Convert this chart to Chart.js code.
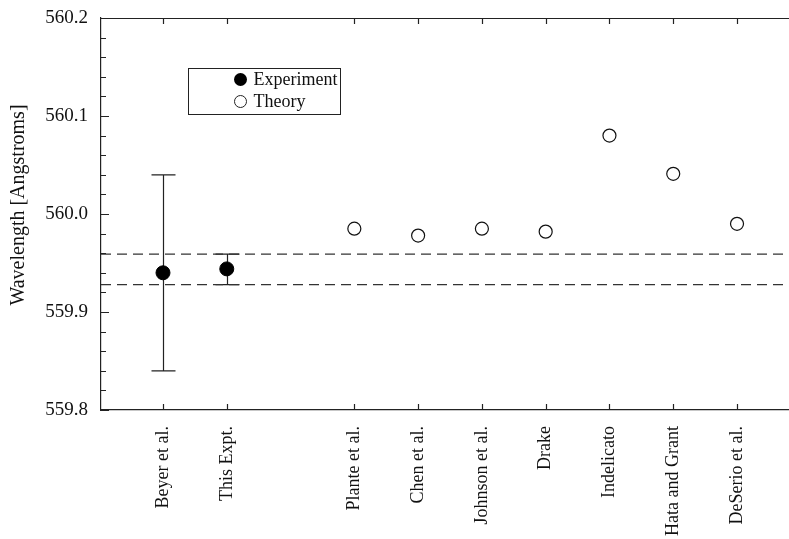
<!DOCTYPE html>
<html>
<head>
<meta charset="utf-8">
<script src="https://cdn.jsdelivr.net/npm/chart.js@4.4.1/dist/chart.umd.min.js"></script>
<style>
  html, body { margin: 0; padding: 0; background: #fff; overflow: hidden; }
  #wrap { width: 789px; height: 539px; overflow: hidden; }
  canvas { display: block; }
</style>
</head>
<body>
<div id="wrap"><canvas id="chart" width="797" height="539"></canvas></div>
<script>
// categories along the x axis (the blank one is the gap between experiment and theory)
const categories = ['Beyer et al.', 'This Expt.', '', 'Plante et al.', 'Chen et al.', 'Johnson et al.',
                    'Drake', 'Indelicato', 'Hata and Grant', 'DeSerio et al.'];
// experiment: value with error bar low/high
const experimentValues = [559.940, 559.944, null, null, null, null, null, null, null, null];
const experimentLow    = [559.840, 559.928, null, null, null, null, null, null, null, null];
const experimentHigh   = [560.040, 559.959, null, null, null, null, null, null, null, null];
// theory predictions
const theoryValues = [null, null, null, 559.985, 559.978, 559.985, 559.982, 560.080, 560.041, 559.990];
// dashed band from this experiment
const bandLines = [559.959, 559.928];
const yTicks = { min: 559.8, max: 560.2, minorStep: 0.02 };

const X_MIN = -0.972, X_MAX = 9.815;
const FONT = '"Liberation Serif", "Times New Roman", serif';

function toPoints(vals) {
    return vals.map((v, i) => v === null ? null : { x: i, y: v }).filter(p => p);
}

const frameAndTicks = {
    id: 'frameAndTicks',
    beforeDatasetsDraw(chart) {
        // error bars for experiment
        const ctx = chart.ctx, xs = chart.scales.x, ys = chart.scales.y;
        ctx.save();
        ctx.strokeStyle = '#222';
        ctx.lineWidth = 1.2;
        experimentValues.forEach((v, i) => {
            if (v === null) return;
            const px = Math.round(xs.getPixelForValue(i)) + 0.5;
            const lo = ys.getPixelForValue(experimentLow[i]);
            const hi = ys.getPixelForValue(experimentHigh[i]);
            ctx.beginPath();
            ctx.moveTo(px, lo); ctx.lineTo(px, hi);
            ctx.moveTo(px - 12, lo); ctx.lineTo(px + 12, lo);
            ctx.moveTo(px - 12, hi); ctx.lineTo(px + 12, hi);
            ctx.stroke();
        });
        ctx.restore();
    },
    afterDraw(chart) {
        const ctx = chart.ctx, a = chart.chartArea, xs = chart.scales.x, ys = chart.scales.y;
        ctx.save();
        ctx.strokeStyle = '#222';
        ctx.lineWidth = 1.2;
        ctx.beginPath();
        ctx.moveTo(a.left, a.top + 0.5); ctx.lineTo(a.right, a.top + 0.5);
        // y ticks, inward
        ys.ticks.forEach(t => {
            const py = Math.round(ys.getPixelForValue(t.value)) + 0.5;
            const major = Math.abs(t.value * 10 - Math.round(t.value * 10)) < 1e-6;
            ctx.moveTo(a.left, py); ctx.lineTo(a.left + (major ? 8 : 5), py);
        });
        // x ticks, inward on bottom and top
        xs.ticks.forEach(t => {
            const px = Math.round(xs.getPixelForValue(t.value)) + 0.5;
            ctx.moveTo(px, a.bottom); ctx.lineTo(px, a.bottom - 6);
            ctx.moveTo(px, a.top); ctx.lineTo(px, a.top + 6);
        });
        ctx.stroke();

        // y axis title
        ctx.save();
        ctx.translate(19, (a.top + a.bottom) / 2 - 9);
        ctx.rotate(-Math.PI / 2);
        ctx.fillStyle = '#111';
        ctx.font = '20px ' + FONT;
        ctx.textAlign = 'center';
        ctx.textBaseline = 'middle';
        ctx.fillText('Wavelength [Angstroms]', 0, 0);
        ctx.restore();

        // legend box
        const bx = 188.5, by = 68.5, bw = 152, bh = 46;
        ctx.lineWidth = 1;
        ctx.strokeRect(bx, by, bw, bh);
        ctx.fillStyle = '#000';
        ctx.beginPath(); ctx.arc(bx + 52, by + 11, 6.5, 0, Math.PI * 2); ctx.fill();
        ctx.beginPath(); ctx.arc(bx + 52, by + 33, 6, 0, Math.PI * 2);
        ctx.fillStyle = '#fff'; ctx.fill(); ctx.stroke();
        ctx.fillStyle = '#111';
        ctx.font = '18px ' + FONT;
        ctx.textBaseline = 'middle';
        ctx.fillText('Experiment', bx + 65, by + 12);
        ctx.fillText('Theory', bx + 65, by + 34);
        ctx.restore();
    }
};

const bandDatasets = bandLines.map(v => ({
    type: 'line',
    data: [{ x: X_MIN, y: v }, { x: X_MAX, y: v }],
    borderColor: '#333',
    borderWidth: 1.2,
    borderDash: [10, 6],
    pointRadius: 0,
    order: 3
}));

new Chart(document.getElementById('chart').getContext('2d'), {
    type: 'scatter',
    data: {
        datasets: [
            {
                label: 'Experiment',
                data: toPoints(experimentValues),
                pointRadius: 7,
                pointBackgroundColor: '#000',
                pointBorderColor: '#000',
                order: 1
            },
            {
                label: 'Theory',
                data: toPoints(theoryValues),
                pointRadius: 6.5,
                pointBackgroundColor: '#fff',
                pointBorderColor: '#111',
                pointBorderWidth: 1.2,
                order: 1
            },
            ...bandDatasets
        ]
    },
    options: {
        responsive: false,
        animation: false,
        layout: { padding: { top: 18, right: 0, left: 0, bottom: 0 } },
        plugins: { legend: { display: false }, tooltip: { enabled: false } },
        scales: {
            x: {
                type: 'linear',
                min: X_MIN,
                max: X_MAX,
                afterBuildTicks(scale) {
                    scale.ticks = categories.map((c, i) => ({ value: i })).filter(t => categories[t.value] !== '');
                },
                afterFit(scale) {
                    scale.height = 129;
                    scale.paddingLeft = 0;
                    scale.paddingRight = 0;
                },
                grid: { display: false, drawTicks: false },
                border: { display: true, color: '#222', width: 1.2 },
                ticks: {
                    autoSkip: false,
                    minRotation: 90,
                    maxRotation: 90,
                    padding: 16,
                    color: '#111',
                    font: { family: FONT, size: 18 },
                    callback: v => categories[v]
                }
            },
            y: {
                min: yTicks.min,
                max: yTicks.max,
                afterFit(scale) {
                    scale.width = 101;
                    scale.paddingTop = 0;
                    scale.paddingBottom = 0;
                },
                grid: { display: false, drawTicks: false },
                border: { display: true, color: '#222', width: 1.2 },
                ticks: {
                    stepSize: yTicks.minorStep,
                    autoSkip: false,
                    padding: 13,
                    color: '#111',
                    font: { family: FONT, size: 19 },
                    callback: v => {
                        const r = Math.round(v * 10) / 10;
                        return Math.abs(v - r) < 1e-6 ? r.toFixed(1) : '';
                    }
                }
            }
        }
    },
    plugins: [frameAndTicks]
});
</script>
</body>
</html>
